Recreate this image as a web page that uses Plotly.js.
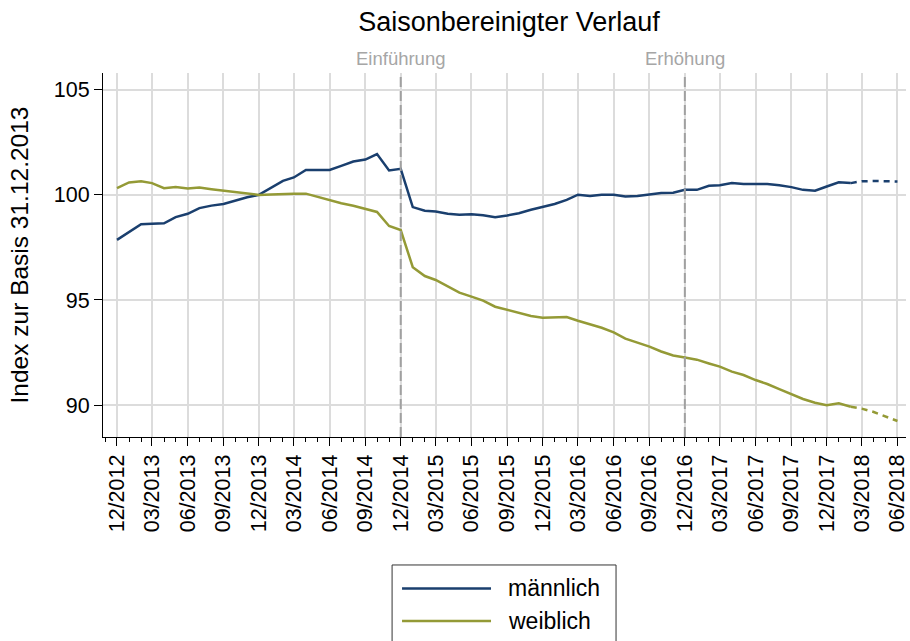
<!DOCTYPE html>
<html>
<head>
<meta charset="utf-8">
<script src="https://cdn.plot.ly/plotly-3.0.1.min.js"></script>
<style>html,body{margin:0;padding:0;background:#fff;}#chart{width:910px;height:641px;}</style>
</head>
<body>
<div id="chart"></div>
<script>
// ---- data ----
var startMonth = "2012-12";            // first observation (12/2012)
var seriesNames = ["männlich", "weiblich"];
var maleValues = [
  97.86, 98.25, 98.60, 98.63, 98.65, 98.94, 99.10, 99.37, 99.49, 99.57,
  99.73, 99.89, 100.00, 100.32, 100.67, 100.83, 101.19, 101.19, 101.19, 101.38,
  101.59, 101.68, 101.94, 101.16, 101.24, 99.42, 99.25, 99.21, 99.10, 99.05,
  99.08, 99.03, 98.94, 99.02, 99.13, 99.29, 99.41, 99.57, 99.76, 100.01,
  99.95, 100.01, 100.01, 99.92, 99.95, 100.01, 100.09, 100.10, 100.24, 100.24,
  100.43, 100.46, 100.56, 100.52, 100.52, 100.52, 100.46, 100.37, 100.24, 100.20,
  100.40, 100.60, 100.56
];
var femaleValues = [
  100.32, 100.59, 100.65, 100.56, 100.32, 100.38, 100.30, 100.35, 100.27, 100.20,
  100.13, 100.08, 100.00, 100.02, 100.05, 100.06, 100.06, 99.90, 99.73, 99.60,
  99.48, 99.32, 99.19, 98.52, 98.33, 96.56, 96.14, 95.95, 95.63, 95.35,
  95.16, 94.97, 94.68, 94.52, 94.40, 94.24, 94.16, 94.16, 94.19, 94.01,
  93.84, 93.68, 93.46, 93.16, 92.97, 92.78, 92.55, 92.36, 92.26, 92.16,
  91.98, 91.83, 91.59, 91.43, 91.19, 91.00, 90.76, 90.52, 90.29, 90.11,
  89.99, 90.08, 89.92
];
// projection (dashed), starting at last observed month 02/2018
var forecastMonths = ["2018-02", "2018-03", "2018-04", "2018-05", "2018-06"];
var maleForecast = [100.56, 100.65, 100.66, 100.65, 100.64];
var femaleForecast = [89.92, 89.83, 89.67, 89.45, 89.24];
var eventMonths = ["2014-12", "2016-12"];
var eventLabels = ["Einführung", "Erhöhung"];
var yTicks = [90, 95, 100, 105];

// ---- build month list for observed values ----
function monthList(start, n) {
  var y = +start.slice(0, 4), m = +start.slice(5, 7), out = [];
  for (var i = 0; i < n; i++) {
    out.push(y + "-" + (m < 10 ? "0" + m : m) + "-01");
    m++; if (m > 12) { m = 1; y++; }
  }
  return out;
}
var months = monthList(startMonth, maleValues.length);
var fMonths = forecastMonths.map(function (d) { return d + "-01"; });

var blue = "#1a3f6e", green = "#949a36";
var FONT = "Liberation Sans, Arial, Helvetica, sans-serif";

var traces = [
  {x: months, y: maleValues, mode: "lines", name: seriesNames[0],
   line: {color: blue, width: 2.5}},
  {x: months, y: femaleValues, mode: "lines", name: seriesNames[1],
   line: {color: green, width: 2.5}},
  {x: fMonths, y: maleForecast, mode: "lines", showlegend: false,
   line: {color: blue, width: 2.5, dash: "6px,5px"}},
  {x: fMonths, y: femaleForecast, mode: "lines", showlegend: false,
   line: {color: green, width: 2.5, dash: "6px,5px"}}
];

var shapes = [], annotations = [];
eventMonths.forEach(function (d, k) {
  shapes.push({type: "line", xref: "x", yref: "paper", x0: d + "-01", x1: d + "-01",
    y0: 0, y1: 1, line: {color: "#a0a0a0", width: 2, dash: "10px,4px"}, layer: "above"});
  annotations.push({xref: "x", yref: "paper", x: d + "-01", y: 1, yanchor: "bottom",
    yshift: 2, showarrow: false, text: eventLabels[k],
    font: {family: FONT, size: 18.5, color: "#a6a6a6"}});
});

// manual legend (long line samples as in the reference)
var L = {x0: 0.36, x1: 0.6389, y0: -0.575, y1: -0.3516};
shapes.push({type: "rect", xref: "paper", yref: "paper", x0: L.x0, x1: L.x1, y0: L.y0, y1: L.y1,
  line: {color: "#333333", width: 1}, fillcolor: "rgba(0,0,0,0)"});
var legendRows = [-0.4162, -0.5055];
[blue, green].forEach(function (c, k) {
  shapes.push({type: "line", xref: "paper", yref: "paper", x0: 0.3724, x1: 0.4832,
    y0: legendRows[k], y1: legendRows[k], line: {color: c, width: 2.5}});
  annotations.push({xref: "paper", yref: "paper", x: 0.502, y: legendRows[k],
    xanchor: "left", yanchor: "middle", showarrow: false, text: seriesNames[k],
    font: {family: FONT, size: 23, color: "#000"}});
});

var layout = {
  width: 910, height: 641,
  margin: {l: 103, r: 4, t: 73, b: 204},
  paper_bgcolor: "#fff", plot_bgcolor: "#fff",
  font: {family: FONT, color: "#000"},
  showlegend: false,
  title: {text: "Saisonbereinigter Verlauf", font: {family: FONT, size: 27, color: "#000"},
    xref: "paper", x: 0.5056, xanchor: "center", yref: "container", y: 0.966, yanchor: "middle"},
  xaxis: {
    type: "date", range: ["2012-10-26", "2018-06-23"],
    tick0: "2012-12-01", dtick: "M3", tickformat: "%m/%Y", tickangle: -90,
    tickfont: {family: FONT, size: 21.5, color: "#000"},
    ticks: "outside", ticklen: 8, tickwidth: 1, tickcolor: "#000",
    minor: {dtick: "M1", ticks: "outside", ticklen: 4, tickcolor: "#000", tickwidth: 1, showgrid: false},
    showgrid: true, gridcolor: "#dcdcdc", gridwidth: 2,
    showline: true, linecolor: "#000", linewidth: 1, zeroline: false
  },
  yaxis: {
    range: [88.48, 105.8], tickvals: yTicks,
    tickfont: {family: FONT, size: 21.5, color: "#000"},
    ticks: "outside", ticklen: 8, tickwidth: 1, tickcolor: "#000",
    showgrid: true, gridcolor: "#dcdcdc", gridwidth: 2,
    showline: true, linecolor: "#000", linewidth: 1, zeroline: false,
    title: {text: "Index zur Basis 31.12.2013", font: {family: FONT, size: 24.5, color: "#000"}, standoff: 18}
  },
  shapes: shapes,
  annotations: annotations
};

Plotly.newPlot("chart", traces, layout, {staticPlot: true, displayModeBar: false});
</script>
</body>
</html>
